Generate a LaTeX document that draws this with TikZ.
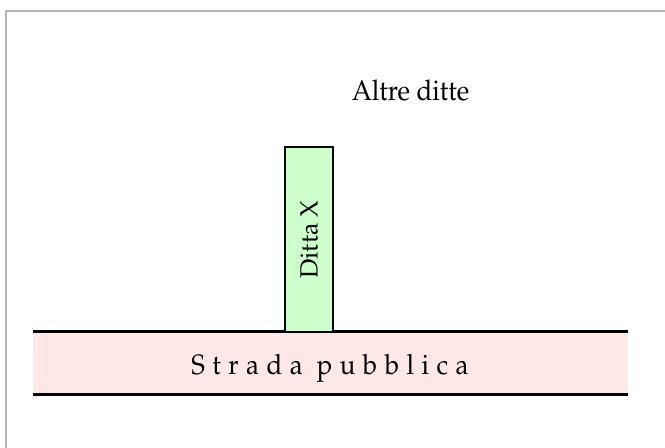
\documentclass[tikz,border=0pt]{standalone}
\usepackage[T1]{fontenc}
\usepackage{mathpazo}
\definecolor{roadpink}{HTML}{FDE8E6}
\definecolor{firmgreen}{HTML}{CCFFCC}
\definecolor{framegray}{HTML}{B4B4B4}
\newcommand{\lsp}{\kern7.5bp}
\begin{document}
\begin{tikzpicture}[x=1bp,y=-1bp,
  roadline/.style={line width=3bp,black},
  firmbox/.style={draw=black,line width=2.4bp,fill=firmgreen,minimum width=48bp,minimum height=185bp,inner sep=0pt},
  lbl/.style={font=\fontsize{26}{30}\selectfont,inner sep=0pt}]
\useasboundingbox (0,0) rectangle (665,448);
\fill[white] (0,0) rectangle (665,448);
\draw[framegray,line width=1.5bp] (6,448) -- (6,11) -- (665,11);
% road
\node[fill=roadpink,minimum width=595bp,minimum height=62bp,inner sep=0pt] (road) at (330.5,363) {};
\draw[roadline] (road.north west) -- (road.north east);
\draw[roadline] (road.south west) -- (road.south east);
\node[lbl,yscale=1.08,transform shape] (roadlabel) at (330,368) {S\lsp t\lsp r\lsp a\lsp d\lsp a\lsp\ p\lsp u\lsp b\lsp b\lsp l\lsp i\lsp c\lsp a};
% firm
\node[firmbox] (firm) at (309,239.5) {};
\node[lbl,font=\fontsize{25}{30}\selectfont,rotate=90] (firmlabel) at (firm.center) {Ditta X};
% other firms
\node[lbl,yscale=1.1,transform shape] (others) at (410.5,91) {Altre ditte};
\end{tikzpicture}
\end{document}
